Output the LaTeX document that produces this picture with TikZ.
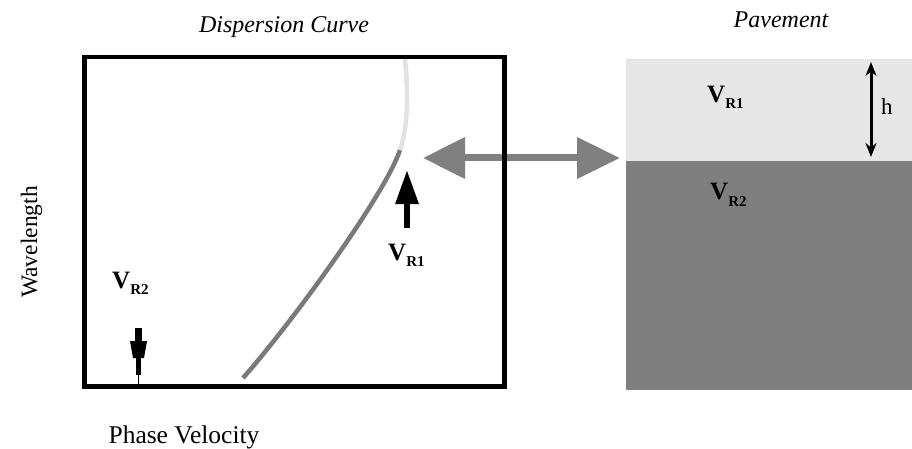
\documentclass[tikz,border=0pt]{standalone}
\usepackage{fontspec}
\setmainfont{Liberation Serif}
\usetikzlibrary{arrows.meta}
\definecolor{lightlayer}{HTML}{E6E6E6}
\definecolor{darklayer}{HTML}{7F7F7F}
\definecolor{curvelight}{HTML}{E2E2E2}
\definecolor{curvedark}{HTML}{7A7A7A}
\definecolor{arrowgray}{HTML}{808080}
\newcommand{\vrlabel}[1]{\textbf{\fontsize{25}{25}\selectfont V\raisebox{-6pt}{\fontsize{15}{15}\selectfont #1}}}
\begin{document}
\begin{tikzpicture}[x=1pt,y=-1pt,
  titletext/.style={font=\fontsize{24}{24}\selectfont\itshape, inner sep=0, anchor=base},
  axistext/.style={font=\fontsize{23.5}{24}\selectfont, inner sep=0, anchor=base},
  vlabel/.style={inner sep=0, anchor=base west},
  layer/.style={inner sep=0, outer sep=0, anchor=north west, minimum width=286pt},
  bigarrow/.style={draw=arrowgray, line width=7pt, {Triangle[length=42pt,width=40pt]}-{Triangle[length=43pt,width=40pt]}},
  curveline/.style={line width=4.5pt},
  boxline/.style={line width=4.5pt, draw=black}]
\useasboundingbox (0,0) rectangle (912,449);
% pavement layers
\node[layer, fill=lightlayer, minimum height=102pt] (toplayer) at (626,59) {};
\node[layer, fill=darklayer, minimum height=229pt] (baselayer) at (626,161) {};
% plot frame (drawn later over the arrow)
\node[inner sep=0, outer sep=0, minimum width=420pt, minimum height=329.5pt] (plot) at (294.5,221.75) {};
% double arrow
\coordinate (knee) at (423,158);
\draw[bigarrow, shorten >=6pt] (knee) -- (knee -| toplayer.west);
% dispersion curve
\coordinate (cbot) at (243,378);
\coordinate (cmid) at (400,150);
\coordinate (ctop) at (405,58);
\draw[curveline, curvedark] (cbot) .. controls (290,325) and (385,195) .. (cmid);
\draw[curveline, curvelight] (cmid) .. controls (407,130) and (409,100) .. (ctop);
\draw[boxline] (plot.north west) rectangle (plot.south east);
% VR1 arrow in plot
\coordinate (a1s) at (407,228);
\coordinate (a1e) at (407,170);
\draw[line width=6pt, -{Triangle[length=34pt,width=22pt]}] (a1s) -- (a1e);
% VR2 arrow in plot
\coordinate (a2s) at (138.5,328);
\coordinate (a2m) at (138.5,357);
\coordinate (a2n) at (138.5,375);
\coordinate (a2e) at (138.5,385);
\draw[line width=7pt] (a2s) -- (a2m);
\fill (130,341) -- (147,341) -- (144,358) -- (133,358) -- cycle;
\draw[line width=5pt] (a2m) -- (a2n);
\draw[line width=1.5pt] (a2n) -- (a2e);
% h arrow
\coordinate (htop) at (871,62);
\coordinate (hbot) at (871,157);
\draw[line width=3pt, {Stealth[length=14pt,width=11pt]}-{Stealth[length=14pt,width=11pt]}] (htop) -- (hbot);
\node[vlabel, font=\fontsize{23}{23}\selectfont] (hlab) at (881,115) {h};
% labels
\node[titletext] (t1) at (284,33) {Dispersion Curve};
\node[titletext] (t2) at (781,28) {Pavement};
\node[axistext, font=\fontsize{25.5}{26}\selectfont] (xl) at (184,443) {Phase Velocity};
\node[axistext, rotate=90] (yl) at (37,242) {Wavelength};
\node[vlabel] (p1) at (707,103) {\vrlabel{R1}};
\node[vlabel] (p2) at (710,200) {\vrlabel{R2}};
\node[vlabel] (b1) at (388,260) {\vrlabel{R1}};
\node[vlabel] (b2) at (112,288) {\vrlabel{R2}};
\end{tikzpicture}
\end{document}
